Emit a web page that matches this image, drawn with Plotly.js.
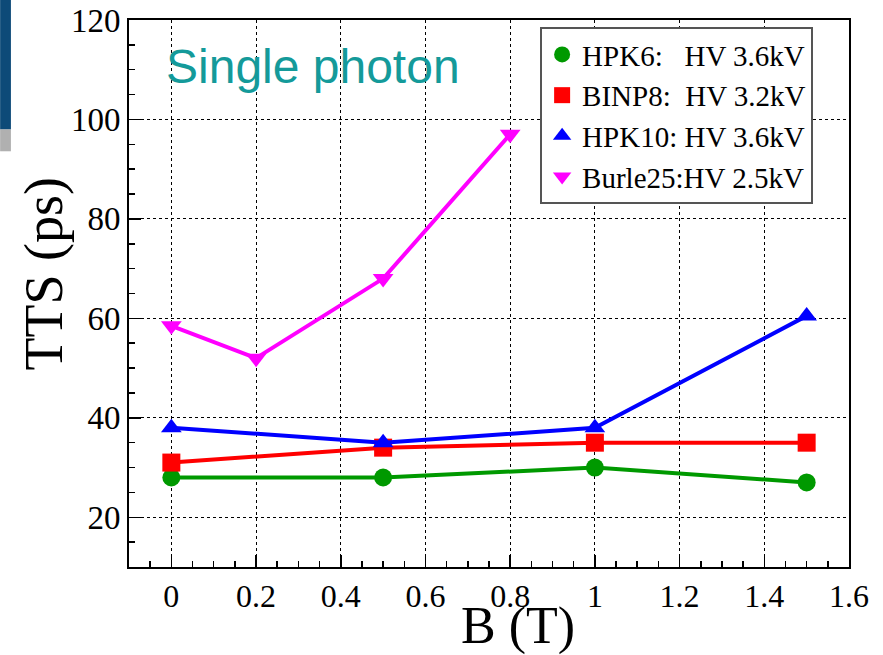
<!DOCTYPE html>
<html><head><meta charset="utf-8">
<script src="https://cdn.plot.ly/plotly-3.0.1.min.js"></script>
<style>html,body{margin:0;padding:0;background:#fff}#c{width:883px;height:655px}</style>
</head><body><div id="c"></div>
<script>
const names = ['HPK6:\u00a0\u00a0\u00a0HV 3.6kV','BINP8:\u00a0\u00a0HV 3.2kV','HPK10: HV 3.6kV','Burle25:HV 2.5kV'];
const colors = ['#009900','#ff0000','#0000ff','#ff00ff'];
const symbols = ['circle','square','triangle-up','triangle-down'];
const hpk6_x = [0, 0.5, 1, 1.5];
const hpk6_y = [28, 28, 30, 27];
const binp8_x = [0, 0.5, 1, 1.5];
const binp8_y = [31, 34, 35, 35];
const hpk10_x = [0, 0.5, 1, 1.5];
const hpk10_y = [38, 35, 38, 60.5];
const burle25_x = [0, 0.2, 0.5, 0.8];
const burle25_y = [58.5, 52, 68, 97];
const xs = [hpk6_x, binp8_x, hpk10_x, burle25_x];
const ys = [hpk6_y, binp8_y, hpk10_y, burle25_y];
const xTicks = [0,0.2,0.4,0.6,0.8,1,1.2,1.4,1.6];
const xTickText = ['0','0.2','0.4','0.6','0.8','1','1.2','1.4','1.6'];
const yTicks = [20,40,60,80,100,120];
const yTickText = ['20','40','60','80','100','120'];

const traces = [];
for (let i=0;i<4;i++){
  traces.push({x:xs[i], y:ys[i], mode:'lines+markers', showlegend:false,
    line:{color:colors[i], width:4}, marker:{color:colors[i], symbol:symbols[i], size:18}});
}
for (let i=0;i<4;i++){
  traces.push({x:[null], y:[null], mode:'markers', name:names[i],
    marker:{color:colors[i], symbol:symbols[i], size:26}});
}
const SERIF = 'Liberation Serif';
const layout = {
  width:883, height:655,
  font:{family:SERIF, size:30, color:'#000'},
  margin:{l:129, r:34, t:20, b:88},
  paper_bgcolor:'#fff', plot_bgcolor:'#fff',
  xaxis:{range:[-0.1,1.6], tickmode:'array', tickvals:xTicks, ticktext:xTickText, ticks:'inside', ticklen:12, tickwidth:1.5,
    tickcolor:'#000', showline:true, linecolor:'#000', linewidth:2, mirror:true,
    tickfont:{family:SERIF, size:32, color:'#000'},
    showgrid:true, gridcolor:'#000', griddash:'dot', gridwidth:1, zeroline:false, automargin:false,
    minor:{dtick:0.05, ticks:'inside', ticklen:6, tickcolor:'#000', showgrid:false}},
  yaxis:{range:[10,120], tickmode:'array', tickvals:yTicks, ticktext:yTickText, ticks:'inside', ticklen:12, tickwidth:1.5,
    tickcolor:'#000', showline:true, linecolor:'#000', linewidth:2, mirror:true,
    tickfont:{family:SERIF, size:33, color:'#000'},
    showgrid:true, gridcolor:'#000', griddash:'dot', gridwidth:1, zeroline:false, automargin:false,
    minor:{dtick:5, ticks:'inside', ticklen:6, tickcolor:'#000', showgrid:false}},
  legend:{x:0.571, y:0.987, xanchor:'left', yanchor:'top', bgcolor:'#fff', bordercolor:'#555', borderwidth:2,
    font:{family:SERIF, size:29, color:'#000'}, itemsizing:'trace'},
  annotations:[
    {text:'Single photon', xref:'paper', yref:'paper', x:0.049, y:0.915, xanchor:'left', yanchor:'middle',
      showarrow:false, font:{family:'Liberation Sans', size:48, color:'#149a9a'}},
    {text:'B (T)', xref:'paper', yref:'paper', x:0.54, y:-0.107, xanchor:'center', yanchor:'middle',
      showarrow:false, font:{family:SERIF, size:52, color:'#000'}},
    {text:'TTS (ps)', xref:'paper', yref:'paper', x:-0.118, y:0.535, xanchor:'center', yanchor:'middle', textangle:-90,
      showarrow:false, font:{family:SERIF, size:54, color:'#000'}}
  ],
  shapes:[
    {type:'rect', xref:'paper', yref:'paper', x0:-0.179, x1:1.05, y0:1.0366, y1:1.05, fillcolor:'#0d4a78', line:{width:0}, layer:'below'},
    {type:'rect', xref:'paper', yref:'paper', x0:-0.179, x1:-0.164, y0:0.8, y1:1.05, fillcolor:'#0d4a78', line:{width:0}, layer:'below'},
    {type:'rect', xref:'paper', yref:'paper', x0:-0.179, x1:-0.164, y0:0.76, y1:0.8, fillcolor:'#b0b0b0', line:{width:0}, layer:'below'}
  ]
};
Plotly.newPlot('c', traces, layout, {displayModeBar:false, staticPlot:true});
</script></body></html>
